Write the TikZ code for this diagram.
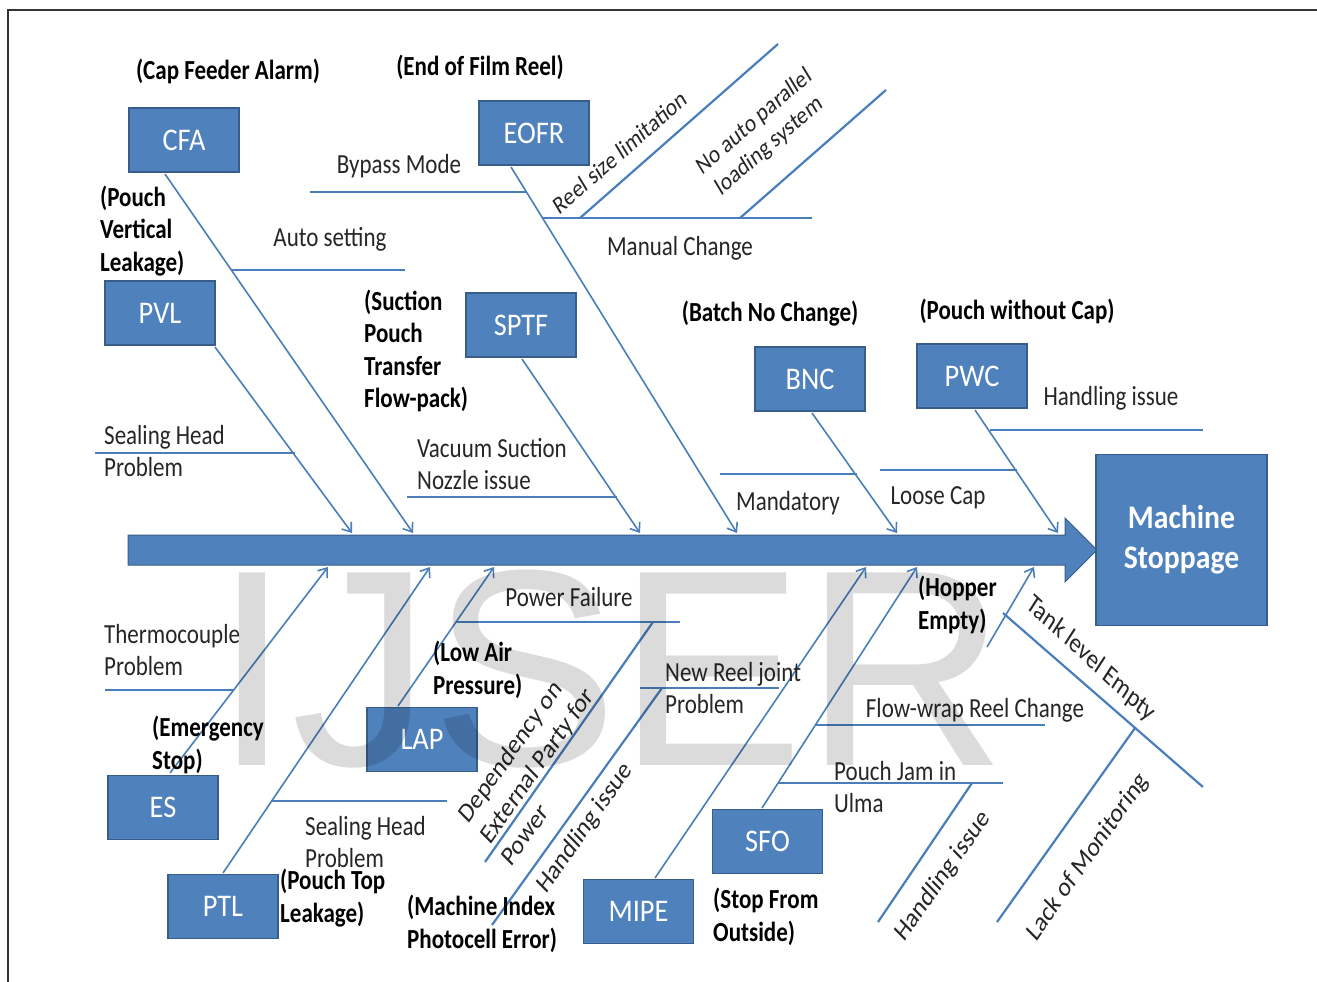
\documentclass[tikz,border=0pt]{standalone}
\usepackage{fontspec}
\setmainfont{Carlito}[FakeStretch=0.8333]
\newfontfamily\plainfont{Carlito}
\newfontfamily\boxfont{Carlito}[FakeStretch=0.9]
\newfontfamily\wmfont{Liberation Sans}
\usetikzlibrary{arrows.meta}
\definecolor{bx}{HTML}{4F81BD}
\definecolor{bxd}{HTML}{385D8A}
\definecolor{ln}{HTML}{4A7EBB}
\definecolor{tx}{HTML}{262626}
\begin{document}
\begin{tikzpicture}[x=1pt,y=-1pt,
  box/.style={fill=bx,draw=bxd,line width=1.5pt,minimum width=110pt,minimum height=64pt,inner sep=0pt,text=white,font=\boxfont\fontsize{31.5}{33}\selectfont},
  lbl/.style={text=tx,font=\fontsize{27.6}{32}\selectfont,inner sep=0pt},
  blbl/.style={text=black,font=\bfseries\fontsize{27.6}{32.5}\selectfont,inner sep=0pt},
  rlbl/.style={transform shape,text=tx,inner sep=0pt,font=\plainfont\fontsize{23}{28}\selectfont},
  bone/.style={draw=ln,line width=1.6pt,-{Straight Barb[length=8pt,width=12pt,line width=1.6pt]}},
  twig/.style={draw=ln,line width=2.2pt},
]
\fill[white] (0,0) rectangle (1317,982);
\useasboundingbox (0,0) rectangle (1317,982);
% frame
\coordinate (f1) at (8,982); \coordinate (f2) at (8,10); \coordinate (f3) at (1317,10);
\draw[black!80,line width=1.5pt] (f1) -- (f2) -- (f3);

% spine
\filldraw[fill=bx,draw=bxd,line width=1pt] (128,535) -- (1065,535) -- (1065,518) -- (1097,550) -- (1065,582) -- (1065,565) -- (128,565) -- cycle;
\node[box,minimum width=171pt,minimum height=171pt,font=\boxfont\bfseries\fontsize{33}{40}\selectfont,align=center] (MS) at (1181.5,540) {Machine\\Stoppage};

% boxes
\node[box] (CFA) at (184,140) {CFA};
\node[box] (EOFR) at (534,133) {EOFR};
\node[box] (PVL) at (160,313) {PVL};
\node[box] (SPTF) at (521,325) {SPTF};
\node[box] (BNC) at (810,379) {BNC};
\node[box] (PWC) at (972,376) {PWC};
\node[box] (ES) at (163,807.5) {ES};
\node[box] (PTL) at (223,906.5) {PTL};
\node[box] (LAP) at (422,739.5) {LAP};
\node[box] (MIPE) at (638.5,911.5) {MIPE};
\node[box] (SFO) at (767.5,841.5) {SFO};

% bone coordinates
\coordinate (cfaB) at (165,174); \coordinate (cfaT) at (413,533);
\coordinate (pvlB) at (215,347); \coordinate (pvlT) at (352,533);
\coordinate (eofrB) at (511,167); \coordinate (eofrT) at (737,533);
\coordinate (sptfB) at (522,359); \coordinate (sptfT) at (640,533);
\coordinate (bncB) at (812,413); \coordinate (bncT) at (897,533);
\coordinate (pwcB) at (975,410); \coordinate (pwcT) at (1058,533);
\coordinate (esB) at (170,773); \coordinate (esT) at (328,567);
\coordinate (ptlB) at (223,873); \coordinate (ptlT) at (430,567);
\coordinate (lapB) at (398,706); \coordinate (lapT) at (494,567);
\coordinate (mipeB) at (655,878); \coordinate (mipeT) at (866,567);
\coordinate (sfoB) at (762,808); \coordinate (sfoT) at (917,567);
\coordinate (hopB) at (987,647); \coordinate (hopT) at (1034,567);

\foreach \b in {cfa,pvl,eofr,sptf,bnc,pwc,es,ptl,lap,mipe,sfo,hop}
  \draw[bone] (\b B) -- (\b T);

% twigs top
\coordinate (by1) at (310,192); \coordinate (by2) at (527,192);
\coordinate (au1) at (232,270); \coordinate (au2) at (405,270);
\coordinate (mc1) at (543,218); \coordinate (mc2) at (812,218);
\coordinate (rs1) at (580,218); \coordinate (rs2) at (778,44);
\coordinate (na1) at (740,218); \coordinate (na2) at (886,90);
\coordinate (sh1) at (95,453); \coordinate (sh2) at (295,453);
\coordinate (vs1) at (407,497); \coordinate (vs2) at (617,497);
\coordinate (md1) at (720,474); \coordinate (md2) at (857,474);
\coordinate (lc1) at (880,470); \coordinate (lc2) at (1017,470);
\coordinate (hi1) at (990,430); \coordinate (hi2) at (1203,430);
% twigs bottom
\coordinate (th1) at (105,690); \coordinate (th2) at (234,690);
\coordinate (sb1) at (271,801); \coordinate (sb2) at (447,801);
\coordinate (pf1) at (456,622); \coordinate (pf2) at (680,622);
\coordinate (dp1) at (485,862); \coordinate (dp2) at (653,622);
\coordinate (nr1) at (640,688); \coordinate (nr2) at (779,688);
\coordinate (hm1) at (492,925); \coordinate (hm2) at (662,688);
\coordinate (fw1) at (815,725); \coordinate (fw2) at (1045,725);
\coordinate (pj1) at (778,783); \coordinate (pj2) at (1003,783);
\coordinate (hr1) at (878,922); \coordinate (hr2) at (972,783);
\coordinate (tl1) at (1003,613); \coordinate (tl2) at (1203,787);
\coordinate (lm1) at (997,922); \coordinate (lm2) at (1135,728);

\foreach \t in {by,au,mc,rs,na,sh,vs,md,lc,hi,th,sb,pf,dp,nr,hm,fw,pj,hr,tl,lm}
  \draw[twig] (\t 1) -- (\t 2);

% labels top
\node[blbl] (l1) at (228,71) {(Cap Feeder Alarm)};
\node[blbl] (l2) at (480,67) {(End of Film Reel)};
\node[lbl] (l3) at (399,166) {Bypass Mode};
\node[lbl] (l4) at (330,239) {Auto setting};
\node[lbl] (l5) at (680,248) {Manual Change};
\node[blbl,anchor=west,align=left] (l6) at (100,231) {(Pouch\\Vertical\\Leakage)};
\node[blbl,anchor=west,align=left] (l7) at (364,351) {(Suction\\Pouch\\Transfer\\Flow-pack)};
\node[lbl,anchor=west,align=left] (l8) at (104,451) {Sealing Head\\Problem};
\node[lbl,anchor=west,align=left] (l9) at (417,464) {Vacuum Suction\\Nozzle issue};
\node[blbl] (l10) at (770,314) {(Batch No Change)};
\node[blbl] (l11) at (1017,311) {(Pouch without Cap)};
\node[lbl] (l12) at (1111,398) {Handling issue};
\node[lbl] (l13) at (788,503) {Mandatory};
\node[lbl] (l14) at (938,498) {Loose Cap};
\begin{scope}[shift={(620,152)},yscale=1.2]
\node[rlbl,rotate=35.9,font=\plainfont\fontsize{21}{26}\selectfont] (l15) at (0,0) {Reel size limitation};
\end{scope}
\begin{scope}[shift={(762,134)},yscale=1.2]
\node[rlbl,rotate=35.9,align=center,font=\plainfont\fontsize{21}{25}\selectfont] (l16) at (0,0) {No auto parallel\\loading system};
\end{scope}

% labels bottom
\node[lbl] (b1) at (569,597) {Power Failure};
\node[lbl,anchor=west,align=left] (b2) at (104,650) {Thermocouple\\Problem};
\node[blbl,anchor=west,align=left] (b3) at (433,670) {(Low Air\\Pressure)};
\node[lbl,anchor=west,align=left] (b4) at (665,688) {New Reel joint\\Problem};
\node[blbl,anchor=west,align=left] (b5) at (918,605) {(Hopper\\Empty)};
\node[lbl] (b6) at (975,710) {Flow-wrap Reel Change};
\node[blbl,anchor=west,align=left] (b7) at (152,745) {(Emergency\\Stop)};
\node[lbl,anchor=west,align=left] (b8) at (834,787) {Pouch Jam in\\Ulma};
\node[lbl,anchor=west,align=left] (b9) at (305,842) {Sealing Head\\Problem};
\node[blbl,anchor=west,align=left] (b10) at (280,898) {(Pouch Top\\Leakage)};
\node[blbl,anchor=west,align=left] (b11) at (407,924) {(Machine Index\\Photocell Error)};
\node[blbl,anchor=west,align=left] (b12) at (713,917) {(Stop From\\Outside)};
\begin{scope}[shift={(484,840)},yscale=1.2]
\node[rlbl,rotate=50,align=left,anchor=west] (b13) at (0,0) {Dependency on\\External Party for\\Power};
\end{scope}
\begin{scope}[shift={(585,828)},yscale=1.2]
\node[rlbl,rotate=50] (b14) at (0,0) {Handling issue};
\end{scope}
\begin{scope}[shift={(1091,659)},yscale=1.2]
\node[rlbl,rotate=-37.8] (b15) at (0,0) {Tank level Empty};
\end{scope}
\begin{scope}[shift={(943,876)},yscale=1.2]
\node[rlbl,rotate=50] (b16) at (0,0) {Handling issue};
\end{scope}
\begin{scope}[shift={(1088,857)},yscale=1.2]
\node[rlbl,rotate=50] (b17) at (0,0) {Lack of Monitoring};
\end{scope}

% watermark
\begin{scope}[blend mode=multiply]
\node[anchor=base west,inner sep=0pt,text=black!14,font=\wmfont\fontsize{280}{280}\selectfont] (wm) at (213,765) {IJSER};
\end{scope}
\end{tikzpicture}
\end{document}
